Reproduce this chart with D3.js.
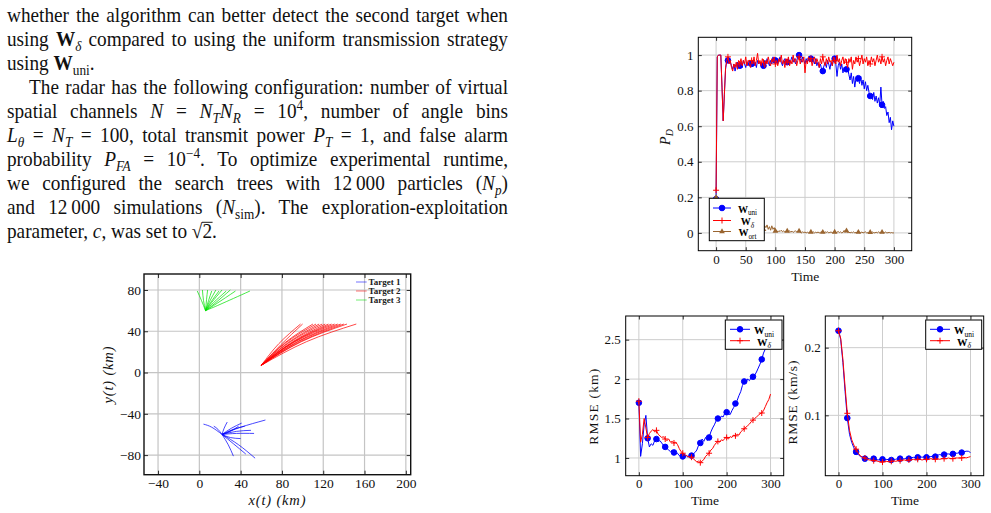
<!DOCTYPE html>
<html>
<head>
<meta charset="utf-8">
<script src="https://cdn.jsdelivr.net/npm/d3@7"></script>
<style>
html, body { margin: 0; padding: 0; background: #fff; overflow: hidden; }
svg { display: block; }
text { font-family: "Liberation Serif", "Times New Roman", serif; white-space: pre; }
</style>
</head>
<body>
<svg id="page" width="991" height="513"></svg>
<script>
// ---- paper text (left column) ----
var textLines = [
  [["whether the algorithm can better detect the second target when"]],
  [["using "], ["W", "b"], ["δ", "si"], [" compared to using the uniform transmission strategy"]],
  [["using "], ["W", "b"], ["uni", "s"], ["."]],
  [["The radar has the following configuration: number of virtual"]],
  [["spatial channels "], ["N", "i"], [" = "], ["N", "i"], ["T", "si"], ["N", "i"], ["R", "si"], [" = 10"], ["4", "p"], [", number of angle bins"]],
  [["L", "i"], ["θ", "si"], [" = "], ["N", "i"], ["T", "si"], [" = 100, total transmit power "], ["P", "i"], ["T", "si"], [" = 1, and false alarm"]],
  [["probability "], ["P", "i"], ["FA", "si"], [" = 10"], ["−4", "p"], [". To optimize experimental runtime,"]],
  [["we configured the search trees with 12\u2009000 particles ("], ["N", "i"], ["p", "si"], [")"]],
  [["and 12\u2009000 simulations ("], ["N", "i"], ["sim", "s"], ["). The exploration-exploitation"]],
  [["parameter, "], ["c", "i"], [", was set to "], ["√"], ["2", "o"], ["."]]
];

// ---- trajectory plot ----
var trajXTicks = [-40, 0, 40, 80, 120, 160, 200];
var trajYTicks = [-80, -40, 0, 40, 80];
var trajLegend = ["Target 1", "Target 2", "Target 3"];

var target1Tracks = [
  [[22, -60], [12, -53], [4, -50]],
  [[22, -60], [24, -54], [27, -48]],
  [[22, -60], [31, -54], [41, -49]],
  [[22, -60], [33, -55], [44, -52]],
  [[22, -60], [40, -53], [64, -46]],
  [[22, -60], [36, -59], [53, -59]],
  [[22, -60], [36, -57], [50, -56]],
  [[22, -60], [38, -70], [54, -83]],
  [[22, -60], [28, -70], [33, -81]],
  [[22, -60], [33, -69], [45, -79]],
  [[22, -60], [30, -57], [38, -52]],
  [[22, -60], [18, -55], [14, -52]],
  [[22, -60], [30, -63], [40, -64]]
];
var target2Tracks = [
  [[60, 7], [77, 28], [98, 47]],
  [[60, 7], [79, 27], [100, 47]],
  [[60, 7], [83, 29], [110, 47]],
  [[60, 7], [84, 29], [113, 47]],
  [[60, 7], [86, 29], [116, 47]],
  [[60, 7], [87, 29], [119, 47]],
  [[60, 7], [89, 29], [122, 47]],
  [[60, 7], [90, 29], [125, 47]],
  [[60, 7], [92, 30], [128, 47]],
  [[60, 7], [93, 30], [131, 47]],
  [[60, 7], [95, 30], [134, 47]],
  [[60, 7], [96, 30], [137, 47]],
  [[60, 7], [98, 30], [140, 47]],
  [[60, 7], [99, 30], [143, 47]],
  [[60, 7], [104, 30], [152, 47]]
];
var target3Tracks = [
  [[6, 60], [2, 70], [-2, 79]],
  [[6, 60], [4, 70], [3, 80]],
  [[6, 60], [7, 71], [8, 80]],
  [[6, 60], [9, 70], [12, 79]],
  [[6, 60], [10, 69], [16, 80]],
  [[6, 60], [11, 68], [19, 79]],
  [[6, 60], [12, 68], [22, 80]],
  [[6, 60], [14, 68], [26, 79]],
  [[6, 60], [15, 67], [30, 80]],
  [[6, 60], [17, 67], [35, 79]],
  [[6, 60], [20, 66], [49, 79]]
];

// ---- P_D plot (one value every 2 time steps, t = 0..300) ----
var pdXTicks = [0, 50, 100, 150, 200, 250, 300];
var pdYTicks = [0, 0.2, 0.4, 0.6, 0.8, 1];
var pdStep = 2;
var pdUni = [
  0.19, 0.99, 1.0, 1.0, 1.0, 0.82, 0.63, 0.78, 0.92, 0.97,
  0.97, 0.98, 0.96, 0.94, 0.92, 0.95, 0.91, 0.94, 0.96, 0.93,
  0.94, 0.96, 0.93, 0.97, 0.95, 0.93, 0.96, 0.94, 0.97, 0.95,
  0.95, 0.97, 0.94, 0.96, 0.93, 0.97, 0.95, 0.96, 0.94, 0.95,
  0.94, 0.97, 0.95, 0.98, 0.96, 0.94, 0.97, 0.95, 0.99, 0.96,
  0.97, 0.98, 0.95, 0.97, 0.99, 0.96, 0.94, 0.97, 0.98, 0.95,
  0.96, 0.98, 0.95, 0.97, 0.99, 0.96, 0.98, 0.95, 0.97, 0.99,
  1.0, 0.98, 0.96, 0.99, 0.97, 0.95, 0.98, 0.96, 0.99, 0.97,
  0.98, 0.96, 0.97, 0.95, 0.98, 0.94, 0.96, 0.93, 0.95, 0.92,
  0.91, 0.94, 0.96, 0.93, 0.97, 0.95, 0.92, 0.96, 0.94, 0.97,
  0.98, 0.95, 0.88, 0.94, 0.96, 0.92, 0.95, 0.90, 0.93, 0.91,
  0.92, 0.93, 0.89, 0.86, 0.90, 0.84, 0.88, 0.82, 0.87, 0.85,
  0.87, 0.84, 0.88, 0.83, 0.86, 0.81, 0.85, 0.80, 0.83, 0.79,
  0.77, 0.78, 0.75, 0.79, 0.74, 0.77, 0.73, 0.76, 0.72, 0.82,
  0.72, 0.74, 0.70, 0.71, 0.66, 0.68, 0.62, 0.65, 0.58, 0.63,
  0.60
];
var pdDelta = [
  0.24, 0.99, 1.0, 1.0, 1.0, 0.82, 0.63, 0.78, 0.93, 0.97,
  0.99, 0.95, 0.97, 0.93, 0.91, 0.95, 0.93, 0.96, 0.92, 0.97,
  0.95, 0.98, 0.94, 0.97, 0.95, 0.99, 0.94, 0.97, 0.96, 0.93,
  0.97, 0.95, 0.99, 0.94, 0.97, 1.01, 0.95, 0.97, 0.94, 0.98,
  0.96, 0.93, 0.97, 0.95, 0.99, 0.96, 0.94, 0.98, 0.96, 0.99,
  0.95, 0.97, 0.94, 0.98, 0.96, 1.0, 0.95, 0.97, 0.93, 0.98,
  0.96, 0.99, 0.94, 0.97, 0.95, 1.0, 0.96, 0.98, 0.94, 0.97,
  0.99, 0.95, 0.98, 0.96, 0.99, 0.90, 0.97, 0.95, 0.99, 0.96,
  0.98, 0.94, 0.97, 0.99, 0.95, 0.98, 0.96, 0.93, 0.98, 0.95,
  0.99, 0.96, 0.94, 0.98, 0.95, 0.99, 0.96, 0.97, 0.94, 0.99,
  0.97, 0.95, 1.0, 0.96, 0.98, 0.94, 0.97, 0.99, 0.95, 0.98,
  0.96, 0.93, 0.98, 0.96, 0.99, 0.92, 0.97, 0.95, 0.99, 0.96,
  0.98, 0.94, 0.97, 1.0, 0.95, 0.98, 0.96, 0.99, 0.94, 0.97,
  0.95, 0.99, 0.96, 0.98, 0.94, 0.97, 1.0, 0.96, 0.98, 0.95,
  0.99, 0.96, 0.98, 0.94, 0.97, 0.99, 0.95, 0.98, 0.96, 0.94,
  0.96
];
var pdOrt = [
  0.20, 0.15, 0.12, 0.10, 0.09, 0.08, 0.07, 0.08, 0.06, 0.07,
  0.06, 0.05, 0.07, 0.05, 0.06, 0.04, 0.06, 0.05, 0.04, 0.06,
  0.05, 0.04, 0.06, 0.03, 0.05, 0.04, 0.05, 0.03, 0.04, 0.05,
  0.03, 0.05, 0.02, 0.04, 0.03, 0.05, 0.02, 0.04, 0.03, 0.05,
  0.02, 0.04, 0.03, 0.045, 0.02, 0.035, 0.015, 0.04, 0.02, 0.03,
  0.01, 0.015, 0.005, 0.012, 0.008, 0.015, 0.006, 0.012, 0.004, 0.01,
  0.01, 0.006, 0.012, 0.004, 0.01, 0.003, 0.008, 0.012, 0.005, 0.009,
  0.01, 0.004, 0.0, 0.006, 0.002, 0.005, 0.0, 0.004, 0.001, 0.003,
  0.005, 0.002, 0.006, 0.0, 0.004, 0.001, 0.005, 0.0, 0.003, 0.006,
  0.004, 0.0, 0.006, 0.002, 0.007, 0.0, 0.003, 0.005, 0.001, 0.004,
  0.005, 0.0, 0.004, 0.008, 0.002, 0.006, 0.0, 0.003, 0.014, 0.004,
  0.012, 0.002, 0.005, 0.0, 0.004, 0.001, 0.006, 0.0, 0.003, 0.001,
  0.004, 0.0, 0.002, 0.005, 0.0, 0.003, 0.006, 0.0, 0.002, 0.0,
  0.003, 0.0, 0.005, 0.001, 0.0, 0.004, 0.0, 0.006, 0.002, 0.0,
  0.004, 0.0, 0.002, 0.005, 0.0, 0.001, 0.003, 0.0, 0.002, 0.0,
  0.0
];

// ---- RMSE position (one value every 4 time steps) ----
var rmseXTicks = [0, 100, 200, 300];
var posYTicks = [1, 1.5, 2, 2.5];
var posStep = 4;
var posUni = [
  1.70, 1.02, 1.18, 1.42, 1.54, 1.25, 1.14, 1.18, 1.16, 1.22,
  1.24, 1.21, 1.22, 1.19, 1.16, 1.14, 1.12, 1.10, 1.08, 1.10,
  1.07, 1.05, 1.06, 1.03, 1.04, 1.02, 1.01, 1.03, 1.01, 1.04,
  1.03, 1.05, 1.07, 1.10, 1.16, 1.19, 1.24, 1.21, 1.26, 1.22,
  1.26, 1.33, 1.38, 1.42, 1.47, 1.50, 1.49, 1.53, 1.52, 1.57,
  1.58, 1.56, 1.55, 1.60, 1.64, 1.69, 1.73, 1.79, 1.84, 1.92,
  1.97, 1.96, 2.00, 1.98, 2.02, 2.03, 2.05, 2.09, 2.14, 2.19,
  2.25, 2.33, 2.38, 2.45, 2.54, 2.63
];
var posDelta = [
  1.72, 1.20, 1.30, 1.50, 1.38, 1.26, 1.31, 1.34, 1.36, 1.33,
  1.35, 1.30, 1.28, 1.26, 1.27, 1.24, 1.22, 1.24, 1.20, 1.21,
  1.19, 1.20, 1.17, 1.12, 1.08, 1.06, 1.04, 1.03, 1.02, 1.01,
  1.01, 0.99, 0.97, 0.95, 0.96, 0.94, 0.96, 0.98, 1.02, 1.04,
  1.06, 1.10, 1.12, 1.16, 1.19, 1.21, 1.20, 1.23, 1.22, 1.25,
  1.26, 1.24, 1.27, 1.26, 1.29, 1.28, 1.30, 1.29, 1.33, 1.35,
  1.37, 1.39, 1.41, 1.43, 1.46, 1.48, 1.50, 1.52, 1.54, 1.56,
  1.57, 1.60, 1.65, 1.70, 1.74, 1.81
];

// ---- RMSE velocity (one value every 5 time steps) ----
var velYTicks = [0.1, 0.2];
var velStep = 5;
var velUni = [
  0.225, 0.212, 0.178, 0.135, 0.096, 0.072, 0.060, 0.052, 0.046, 0.042,
  0.039, 0.038, 0.036, 0.037, 0.036, 0.035, 0.036, 0.035, 0.034, 0.035,
  0.035, 0.034, 0.035, 0.034, 0.034, 0.035, 0.035, 0.036, 0.036, 0.035,
  0.036, 0.037, 0.036, 0.037, 0.038, 0.037, 0.038, 0.039, 0.038, 0.039,
  0.038, 0.039, 0.039, 0.040, 0.039, 0.041, 0.042, 0.041, 0.042, 0.043,
  0.043, 0.042, 0.043, 0.044, 0.044, 0.045, 0.045, 0.046, 0.047, 0.047,
  0.045
];
var velDelta = [
  0.225, 0.214, 0.183, 0.142, 0.103, 0.078, 0.064, 0.056, 0.050, 0.044,
  0.040, 0.038, 0.037, 0.035, 0.034, 0.034, 0.033, 0.033, 0.032, 0.031,
  0.031, 0.032, 0.032, 0.031, 0.032, 0.033, 0.032, 0.033, 0.033, 0.034,
  0.034, 0.033, 0.034, 0.034, 0.035, 0.034, 0.035, 0.035, 0.034, 0.035,
  0.035, 0.035, 0.036, 0.035, 0.035, 0.036, 0.035, 0.036, 0.036, 0.036,
  0.037, 0.036, 0.036, 0.037, 0.037, 0.037, 0.037, 0.038, 0.037, 0.038,
  0.039
];

var BLUE = "#0000ff", RED = "#ff0000", GREEN = "#00e000", BROWN = "#9a6530";
var FONT = '"Liberation Serif", "Times New Roman", serif';

var svg = d3.select("#page");
svg.append("rect").attr("width", 991).attr("height", 513).attr("fill", "#fff");

// ---------- paragraph text ----------
// glyphs a bit narrower than Liberation Serif, so squeeze horizontally
var squeeze = 0.95;
var para = svg.append("g").attr("transform", "scale(" + squeeze + ",1)");
textLines.forEach(function(segs, i) {
  var left = i === 3 ? 29 : 7;
  var base = 22.5 + 24 * i;
  var t = para.append("text")
    .attr("x", left / squeeze)
    .attr("y", base)
    .attr("font-size", 20.3)
    .attr("fill", "#111");
  var shift = 0, overIdx = -1, count = 0;
  segs.forEach(function(s) {
    var st = s[1] || "";
    var target = st.charAt(0) === "s" ? 4.5 : (st === "p" ? -8 : 0);
    var sp = t.append("tspan").text(s[0]).attr("dy", target - shift);
    shift = target;
    if (st.indexOf("i") >= 0) sp.attr("font-style", "italic");
    if (st === "b") sp.attr("font-weight", "bold");
    if (st.charAt(0) === "s" || st === "p") sp.attr("font-size", 14);
    if (st === "o") overIdx = count;
    count += s[0].length;
  });
  if (i !== 2 && i !== 9) {
    var natural = t.node().getComputedTextLength();
    var spaces = 0;
    segs.forEach(function(s) { spaces += (s[0].match(/ /g) || []).length; });
    t.style("word-spacing", (((508 - left) / squeeze - natural) / spaces) + "px");
  }
  if (overIdx >= 0) {
    // radical bar over the "2"
    var r = t.node().getExtentOfChar(overIdx);
    para.append("line")
      .attr("x1", r.x - 0.5).attr("x2", r.x + r.width + 0.5)
      .attr("y1", base - 16.2).attr("y2", base - 16.2)
      .attr("stroke", "#111").attr("stroke-width", 1);
  }
});

// ---------- generic axes ----------
function makePlot(cfg) {
  var x = d3.scaleLinear().domain(cfg.xDomain).range([cfg.left, cfg.right]);
  var y = d3.scaleLinear().domain(cfg.yDomain).range([cfg.bottom, cfg.top]);
  var g = svg.append("g");
  var grid = g.append("g").attr("stroke", cfg.gridColor).attr("stroke-width", cfg.gridWidth);
  grid.selectAll(".gx").data(cfg.xTicks).join("line").attr("class", "gx")
    .attr("x1", function(d) { return x(d); }).attr("x2", function(d) { return x(d); })
    .attr("y1", cfg.top).attr("y2", cfg.bottom);
  grid.selectAll(".gy").data(cfg.yTicks).join("line").attr("class", "gy")
    .attr("y1", function(d) { return y(d); }).attr("y2", function(d) { return y(d); })
    .attr("x1", cfg.left).attr("x2", cfg.right);
  var clipId = "clip-" + cfg.name;
  svg.append("clipPath").attr("id", clipId).append("rect")
    .attr("x", cfg.left).attr("y", cfg.top)
    .attr("width", cfg.right - cfg.left).attr("height", cfg.bottom - cfg.top);
  var inner = g.append("g").attr("clip-path", "url(#" + clipId + ")");
  return { x: x, y: y, g: g, inner: inner, cfg: cfg };
}

function styleAxis(sel, size) {
  sel.select(".domain").remove();
  sel.attr("font-family", FONT).attr("font-size", size);
  sel.selectAll(".tick line").attr("stroke", "#000").attr("stroke-width", 0.8);
  sel.selectAll(".tick text").attr("fill", "#111");
}

function finishPlot(p) {
  var c = p.cfg, g = p.g;
  var fmt = c.tickFormat || function(d) { return d3.format("")(d); };
  g.append("g").attr("transform", "translate(0," + c.bottom + ")")
    .call(d3.axisBottom(p.x).tickValues(c.xTicks).tickSize(-c.tickLen).tickPadding(c.xPad).tickFormat(fmt))
    .call(styleAxis, c.tickFont);
  g.append("g").attr("transform", "translate(" + c.left + ",0)")
    .call(d3.axisLeft(p.y).tickValues(c.yTicks).tickSize(-c.tickLen).tickPadding(c.yPad).tickFormat(fmt))
    .call(styleAxis, c.tickFont);
  g.append("g").attr("transform", "translate(0," + c.top + ")")
    .call(d3.axisTop(p.x).tickValues(c.xTicks).tickSize(-c.tickLen).tickFormat(""))
    .call(styleAxis, c.tickFont);
  g.append("g").attr("transform", "translate(" + c.right + ",0)")
    .call(d3.axisRight(p.y).tickValues(c.yTicks).tickSize(-c.tickLen).tickFormat(""))
    .call(styleAxis, c.tickFont);
  g.append("rect")
    .attr("x", c.left).attr("y", c.top)
    .attr("width", c.right - c.left).attr("height", c.bottom - c.top)
    .attr("fill", "none").attr("stroke", c.frameColor).attr("stroke-width", c.frameWidth);
}

function toSeries(vals, step) {
  return vals.map(function(v, i) { return { t: i * step, v: v }; });
}

function drawMarker(sel, kind, color) {
  if (kind === "circle") {
    sel.append("circle").attr("r", 2.8).attr("fill", color).attr("stroke", color);
  } else if (kind === "plus") {
    sel.append("path").attr("d", "M-3,0H3M0,-3V3").attr("stroke", color).attr("stroke-width", 1).attr("fill", "none");
  } else {
    sel.append("path").attr("d", d3.symbol(d3.symbolTriangle, 14)()).attr("fill", color);
  }
}

function drawSeries(p, series, color, marker) {
  var line = d3.line().x(function(d) { return p.x(d.t); }).y(function(d) { return p.y(d.v); });
  p.inner.append("path").datum(series).attr("d", line)
    .attr("fill", "none").attr("stroke", color).attr("stroke-width", 1).attr("stroke-linejoin", "round");
  var marks = series.filter(function(d) { return d.t % 20 === 0 && d.t < 300; });
  p.inner.selectAll(null).data(marks).join("g")
    .attr("transform", function(d) { return "translate(" + p.x(d.t) + "," + p.y(d.v) + ")"; })
    .each(function() { drawMarker(d3.select(this), marker, color); });
}

function wLabel(sel, sub, italicSub, size) {
  sel.append("tspan").text("W").attr("font-weight", "bold").attr("font-size", size);
  var s = sel.append("tspan").text(sub).attr("font-size", size * 0.72).attr("dy", size * 0.25);
  if (italicSub) s.attr("font-style", "italic");
}

function drawLegend(g, box, entries) {
  g.append("rect").attr("x", box.x).attr("y", box.y).attr("width", box.w).attr("height", box.h)
    .attr("fill", "#fff").attr("stroke", "#000").attr("stroke-width", 1);
  entries.forEach(function(e, i) {
    var yy = box.rows[i];
    g.append("line").attr("x1", box.s0).attr("x2", box.s1).attr("y1", yy).attr("y2", yy)
      .attr("stroke", e.color).attr("stroke-width", 1);
    drawMarker(g.append("g").attr("transform", "translate(" + ((box.s0 + box.s1) / 2) + "," + yy + ")"), e.marker, e.color);
    var t = g.append("text").attr("x", box.tc).attr("y", yy).attr("dy", "0.3em")
      .attr("text-anchor", "middle").attr("fill", "#000");
    wLabel(t, e.sub, e.italic, box.font);
  });
}

function axisLabel(x, y, rotate, size, len) {
  var t = svg.append("text")
    .attr("transform", "translate(" + x + "," + y + ")" + (rotate ? " rotate(-90)" : ""))
    .attr("text-anchor", "middle").attr("dy", "0.35em")
    .attr("font-size", size).attr("fill", "#111");
  if (len) t.attr("textLength", len).attr("lengthAdjust", "spacing");
  return t;
}

// ---------- trajectory plot ----------
var traj = makePlot({
  name: "traj", left: 144, right: 410.7, top: 274, bottom: 474.7,
  xDomain: [-53.6, 204.7], yDomain: [-99, 95.5],
  xTicks: trajXTicks, yTicks: trajYTicks,
  gridColor: "#c4c4c4", gridWidth: 1.2, tickLen: 4, tickFont: 13.5, xPad: 4, yPad: 3,
  frameColor: "#111", frameWidth: 1.4
});
var trackLine = d3.line().x(function(d) { return traj.x(d[0]); }).y(function(d) { return traj.y(d[1]); }).curve(d3.curveNatural);
[[target1Tracks, BLUE], [target2Tracks, RED], [target3Tracks, GREEN]].forEach(function(pair) {
  traj.inner.selectAll(null).data(pair[0]).join("path")
    .attr("d", trackLine).attr("fill", "none")
    .attr("stroke", pair[1]).attr("stroke-width", 0.9).attr("stroke-opacity", 0.8);
});
finishPlot(traj);
[BLUE, RED, GREEN].forEach(function(col, i) {
  var yy = 282 + 9 * i;
  traj.g.append("line").attr("x1", 356).attr("x2", 366.7).attr("y1", yy).attr("y2", yy)
    .attr("stroke", col).attr("stroke-width", 1).attr("stroke-opacity", 0.55);
  traj.g.append("text").attr("x", 368.5).attr("y", yy).attr("dy", "0.35em")
    .attr("font-size", 9).attr("font-weight", "bold").attr("fill", "#222").text(trajLegend[i]);
});
axisLabel(277, 500, false, 14.5, 57).attr("font-style", "italic").text("x(t) (km)");
axisLabel(108, 375, true, 14.5, 57).attr("font-style", "italic").text("y(t) (km)");

// ---------- P_D plot ----------
var pd = makePlot({
  name: "pd", left: 698.3, right: 911.7, top: 37.3, bottom: 250.7,
  xDomain: [-30, 330], yDomain: [-0.1, 1.1],
  xTicks: pdXTicks, yTicks: pdYTicks,
  gridColor: "#cdcdcd", gridWidth: 1, tickLen: 3.5, tickFont: 13, xPad: 4, yPad: 4.8,
  frameColor: "#000", frameWidth: 1
});
drawSeries(pd, toSeries(pdUni, pdStep), BLUE, "circle");
drawSeries(pd, toSeries(pdDelta, pdStep), RED, "plus");
drawSeries(pd, toSeries(pdOrt, pdStep), BROWN, "tri");
finishPlot(pd);
drawLegend(pd.g, { x: 709.3, y: 198.3, w: 55, h: 42.4, rows: [208, 220.5, 231.5], s0: 713, s1: 731, tc: 747.5, font: 10 }, [
  { color: BLUE, marker: "circle", sub: "uni" },
  { color: RED, marker: "plus", sub: "δ", italic: true },
  { color: BROWN, marker: "tri", sub: "ort" }
]);
axisLabel(805.3, 276, false, 13.5).text("Time");
var pdLab = axisLabel(665, 137, true, 14);
pdLab.append("tspan").text("P").attr("font-style", "italic");
pdLab.append("tspan").text("D").attr("font-style", "italic").attr("font-size", 10).attr("dy", 3);

// ---------- RMSE position ----------
var pos = makePlot({
  name: "pos", left: 625.7, right: 783.7, top: 316, bottom: 475.7,
  xDomain: [-30, 330], yDomain: [0.775, 2.8],
  xTicks: rmseXTicks, yTicks: posYTicks,
  gridColor: "#cdcdcd", gridWidth: 1, tickLen: 3.5, tickFont: 13, xPad: 3.5, yPad: 5,
  frameColor: "#000", frameWidth: 1
});
drawSeries(pos, toSeries(posUni, posStep), BLUE, "circle");
drawSeries(pos, toSeries(posDelta, posStep), RED, "plus");
finishPlot(pos);
drawLegend(pos.g, { x: 725.3, y: 320, w: 56.7, h: 29.3, rows: [329.3, 340.7], s0: 730, s1: 750, tc: 764, font: 10.5 }, [
  { color: BLUE, marker: "circle", sub: "uni" },
  { color: RED, marker: "plus", sub: "δ", italic: true }
]);
axisLabel(705, 500.7, false, 13.5).text("Time");
axisLabel(593.3, 406.7, true, 13.5, 76).text("RMSE (km)");

// ---------- RMSE velocity ----------
var vel = makePlot({
  name: "vel", left: 825.3, right: 983.7, top: 316, bottom: 475.7,
  xDomain: [-30, 330], yDomain: [0.0108, 0.2468],
  xTicks: rmseXTicks, yTicks: velYTicks,
  gridColor: "#cdcdcd", gridWidth: 1, tickLen: 3.5, tickFont: 13, xPad: 3.5, yPad: 4.6,
  frameColor: "#000", frameWidth: 1
});
drawSeries(vel, toSeries(velUni, velStep), BLUE, "circle");
drawSeries(vel, toSeries(velDelta, velStep), RED, "plus");
finishPlot(vel);
drawLegend(vel.g, { x: 925.7, y: 320, w: 56, h: 29.3, rows: [329.3, 340.7], s0: 930, s1: 950, tc: 964, font: 10.5 }, [
  { color: BLUE, marker: "circle", sub: "uni" },
  { color: RED, marker: "plus", sub: "δ", italic: true }
]);
axisLabel(905, 500.7, false, 13.5).text("Time");
axisLabel(792.3, 402.5, true, 13.5, 84).text("RMSE (km/s)");
</script>
</body>
</html>
